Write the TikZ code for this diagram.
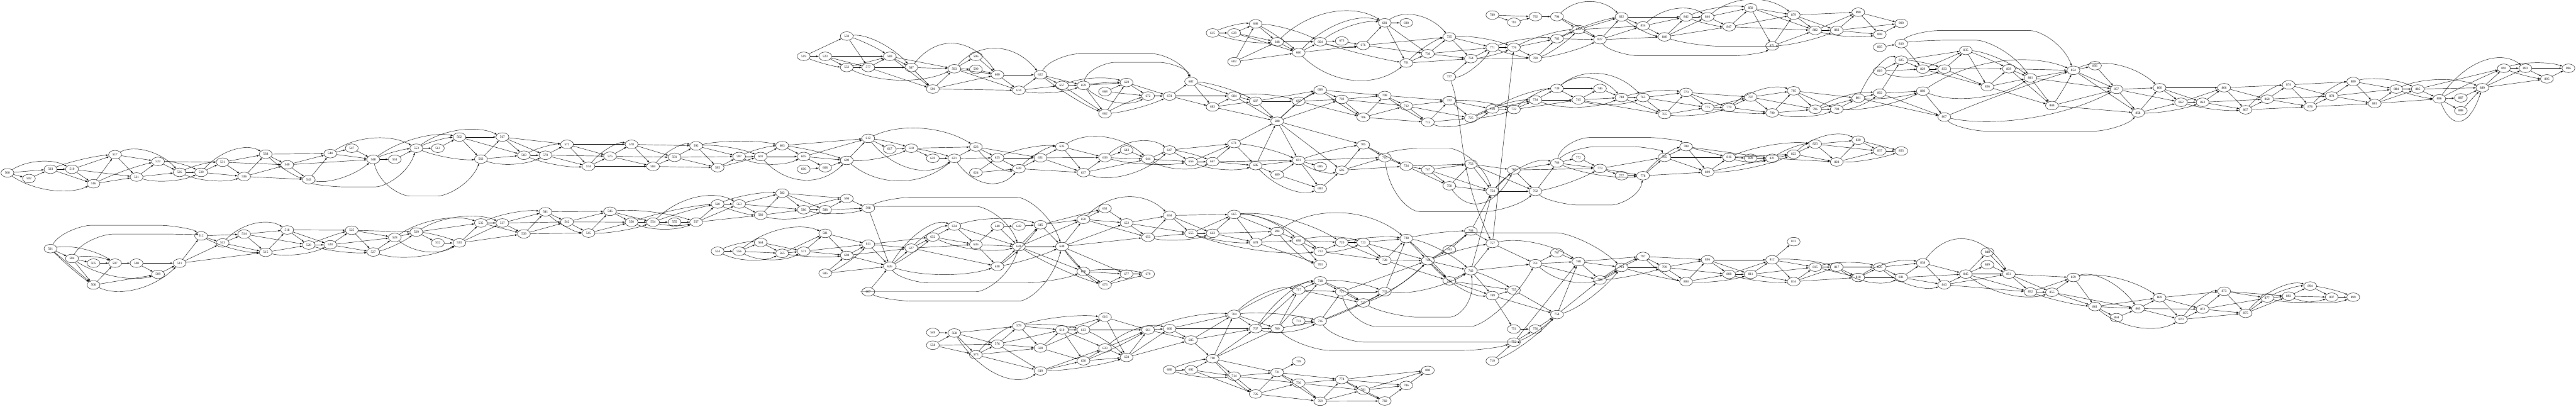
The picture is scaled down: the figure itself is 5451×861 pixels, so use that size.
\documentclass[tikz,border=0pt]{standalone}
\usepackage{fontspec}
\setmainfont{Liberation Serif}
\usetikzlibrary{shapes.geometric,arrows.meta,calc}
\tikzset{
  nd/.style={draw=black,ellipse,line width=0.6pt,minimum width=27.3pt,minimum height=18.2pt,inner sep=0pt,font=\fontsize{7}{8}\selectfont},
  edge/.style={draw=black,line width=0.6pt,-{Latex[length=5pt,width=3.5pt]}}
}
\newcommand\curved[3]{\draw[edge] (n#1) .. controls ($(n#1)!.3!(n#2)+(0,1.82*#3)$) and ($(n#1)!.7!(n#2)+(0,1.82*#3)$) .. (n#2);}
\begin{document}
\begin{tikzpicture}[x=45.54pt,y=-0.5491pt]
\path[use as bounding box] (-15.7pt,0pt) rectangle (5435.3pt,-861pt);
\foreach \n/\c/\y in {
500/0/666,502/1/688,503/2/652,501/2/958,510/3/652,504/3/996,516/4/708,505/4/1014,506/4/1098,517/5/596,507/5/1014,521/6/682,508/6/1014,522/7/622,509/7/1057,526/8/664,511/8/1014,530/9/664,512/9/909,531/10/625,513/10/936,536/11/680,514/11/902,538/12/594,515/12/972,540/13/635,518/13/886,543/14/692,520/14/944,544/15/592,524/15/943,547/16/571,525/16/887,548/17/614,527/17/971,551/18/614,528/18/915,553/19/571,529/19/894,561/20/571,532/20/936,562/21/528,533/21/936,566/22/613,535/22/859,567/23/528,537/23/859,569/24/598,539/24/901,570/25/598,541/25/816,572/26/556,542/26/855,574/27/641,545/27/898,575/28/602,546/28/814,578/29/556,550/29/856,584/30/641,554/30/856,591/31/606,555/31/856,592/32/562,557/32/856,595/33/646,560/33/786,534/33/968,597/34/603,563/34/786,556/34/968,601/35/603,580/35/829,564/35/934,603/36/561,582/36/744,565/36/976,
519/37/217,605/37/603,606/37/652,586/37/808,571/37/968,523/38/217,608/38/646,588/38/808,581/38/899,585/38/1053,559/39/139,552/39/260,609/39/618,594/39/765,604/39/984,577/40/260,612/40/533,598/40/802,611/40/941,607/40/1124,583/41/217,617/41/575,626/41/1026,587/42/260,618/42/571,627/42/956,590/43/343,620/43/610,632/43/913,549/43/1281,558/43/1330,593/44/265,621/44/610,634/44/871,568/44/1283,
596/45/217,599/45/267,623/45/566,624/45/665,636/45/942,573/45/1367,600/46/288,625/46/608,640/46/871,638/46/1026,576/46/1326,614/47/348,628/47/650,642/47/871,641/47/950,579/47/1256,622/48/288,631/48/608,645/48/866,589/48/1341,619/48/1429,657/49/329,635/49/565,649/49/950,610/49/1271,659/50/329,637/50/665,650/50/845,670/50/1046,613/50/1271,630/50/1390,668/51/353,662/51/438,639/51/607,651/51/803,673/51/1098,616/51/1222,633/51/1341,669/52/318,643/52/578,652/52/859,677/52/1056,658/52/1377,672/53/370,644/53/613,653/53/914,679/53/1056,661/53/1271,674/54/370,647/54/578,654/54/830,666/54/1266,680/54/1425,682/55/314,656/55/623,655/55/899,685/55/1310,692/55/1425,615/56/127,683/56/412,667/56/623,663/56/899,700/56/1382,629/57/127,602/57/238,684/57/370,671/57/553,665/57/826,704/57/1211,714/57/1449,646/58/92,687/58/390,686/58/638,678/58/934,707/58/1266,726/58/1518,648/59/161,688/59/467,689/59/673,694/59/892,709/59/1266,731/59/1435,
660/60/203,697/60/390,691/60/618,698/60/927,717/60/1117,711/60/1237,759/60/1392,736/60/1476,664/61/161,699/61/347,695/61/642,693/61/727,713/61/969,703/61/1019,718/61/1082,716/61/1237,769/61/1546,675/62/158,702/62/383,696/62/656,720/62/934,721/62/1124,774/62/1462,676/63/175,706/63/452,705/63/558,723/63/934,727/63/1167,781/63/1503,681/64/88,708/64/368,710/64/607,728/64/1003,733/64/1124,782/64/1545,690/65/88,701/65/243,712/65/408,724/65/640,738/65/919,786/65/1485,730/66/207,715/66/471,747/66/654,740/66/1004,800/66/1427,735/67/142,737/67/296,722/67/388,750/67/716,743/67/962,741/67/1082,764/68/226,725/68/455,753/68/632,744/68/890,742/68/1043,789/69/58,771/69/183,729/69/420,754/69/737,757/69/938,749/69/1139,719/69/1391,791/70/86,776/70/183,732/70/422,760/70/655,755/70/1118,751/70/1268,752/70/1318,792/71/64,780/71/224,734/71/385,762/71/737,761/71/1016,756/71/1268,794/72/64,783/72/149,739/72/341,766/72/628,767/72/974,758/72/1212,824/73/114,745/73/385,772/73/607,768/73/1008,827/74/153,746/74/341,773/74/649,784/74/1079,
832/75/65,748/75/376,777/75/677,793/75/1030,834/76/100,763/76/376,778/76/677,797/76/988,840/77/142,765/77/441,785/77/606,799/77/1030,842/78/65,770/78/356,788/78/565,804/78/1085,846/79/65,775/79/414,809/79/663,806/79/1001,847/80/103,779/80/414,816/80/606,808/80/1057,850/81/30,787/81/374,820/81/610,811/81/1057,871/82/177,790/82/435,821/82/610,812/82/1001,879/83/58,795/83/350,822/83/594,813/83/931,814/83/1085,882/84/117,796/84/421,823/84/555,815/84/1029,883/85/117,798/85/421,828/85/624,817/85/1029,890/86/47,801/86/378,830/86/540,818/86/1069,898/87/133,805/87/182,819/87/274,802/87/359,837/87/582,826/87/1029,900/88/90,810/88/168,825/88/232,853/88/582,831/88/1069,829/89/266,803/89/351,838/89/1013,
833/90/266,807/90/451,843/90/1097,835/91/194,845/91/1056,836/92/334,848/92/971,849/92/1020,839/93/265,851/93/1056,841/94/300,852/94/1125,844/95/407,855/95/1126,854/96/271,859/96/1069,856/97/253,861/97/1181,857/98/344,864/98/1224,858/99/435,865/99/1189,860/100/338,869/100/1147,862/101/394,870/101/1231,863/102/394,872/102/1191,866/103/338,873/103/1122,867/104/423,875/104/1207,868/105/382,877/105/1148,874/106/327,892/106/1141,876/107/411,894/107/1102,878/108/370,897/108/1145,880/109/314,899/109/1145,881/110/399,884/111/343,885/112/343,886/113/381,887/114/377,888/114/427,889/115/338,891/116/263,893/117/263,895/118/304,896/119/263}
{\node[nd] (n\n) at (\c,\y) {\n};}
% straight connectors
\foreach \a/\b in {
500/503,500/502,502/503,503/510,503/516,510/517,510/521,510/516,516/517,516/521,517/522,517/521,522/531,522/526,521/522,521/526,526/530,530/531,530/536,531/538,531/540,531/536,536/538,536/540,536/543,538/544,538/540,540/544,540/543,540/548,543/544,544/547,544/548,547/548,548/551,551/553,553/561,561/562,562/567,562/566,562/569,566/567,566/569,567/572,567/569,567/570,569/570,570/572,570/575,570/574,572/578,572/575,572/574,574/575,574/584,575/578,575/584,575/591,578/584,578/591,578/592,584/591,584/595,591/592,591/597,591/595,592/597,592/595,595/597,595/601,597/601,601/603,601/605,603/605,603/612,605/608,605/609,605/612,606/608,608/609,609/612,612/617,617/618,618/620,618/623,620/621,621/623,621/625,623/625,623/631,624/625,624/628,625/631,625/628,628/631,628/637,631/635,631/639,631/637,635/637,635/639,637/639,637/644,639/643,639/644,643/644,644/647,644/656,647/656,647/671,656/667,656/671,667/671,667/686,667/691,671/688,671/686,686/688,686/689,686/691,689/693,689/691,
600/622,600/614,614/622,614/657,622/657,622/659,657/659,657/662,659/669,659/662,668/669,668/672,662/669,669/672,669/674,672/674,674/682,674/684,674/683,682/684,682/683,683/684,683/687,683/688,684/687,684/688,687/697,687/688,687/699,688/697,688/702,688/691,688/705,688/696,
615/629,629/646,629/648,629/660,602/646,602/648,602/660,646/648,648/660,648/664,660/664,660/676,664/675,675/676,676/681,676/735,676/730,681/690,681/701,681/730,701/730,701/764,730/735,730/764,730/771,735/764,735/771,737/764,764/771,764/780,771/776,776/780,776/783,780/783,783/824,783/827,789/792,789/791,791/792,792/794,794/824,824/832,824/827,824/834,827/832,827/834,827/840,832/834,832/842,834/842,834/840,840/842,840/846,840/847,842/846,846/847,846/850,847/850,847/879,847/882,850/879,850/882,850/871,871/879,871/882,879/890,879/882,879/883,882/883,882/890,883/890,883/900,883/898,890/900,890/898,898/900,
805/810,810/829,819/825,819/829,825/829,825/835,829/833,829/835,829/836,798/801,796/798,796/801,801/802,802/803,802/825,802/807,803/807,801/807,833/835,833/839,833/836,835/836,836/839,836/841,836/844,839/841,839/854,839/844,841/854,841/857,841/844,844/857,844/858,854/856,854/857,854/858,856/857,857/860,857/862,857/858,858/860,858/862,860/866,860/862,860/863,862/863,862/866,863/866,863/867,863/868,866/867,866/868,866/874,867/868,867/876,868/874,868/878,868/876,874/876,874/878,874/880,876/878,876/881,878/880,878/884,878/881,880/881,880/884,881/884,881/885,881/886,884/885,885/886,885/889,885/891,886/887,886/888,887/889,888/889,889/891,889/893,889/895,891/893,893/896,893/895,895/896,
501/504,501/506,504/505,504/506,505/507,506/507,506/509,507/508,508/511,508/509,509/511,511/512,511/513,511/515,512/514,512/513,513/514,513/515,514/518,514/520,514/515,515/518,515/520,518/520,518/524,518/525,520/524,524/525,524/528,524/527,525/528,525/527,525/529,527/528,528/529,529/532,529/535,532/533,533/535,533/537,533/539,535/537,535/539,537/539,537/541,537/542,539/541,539/542,539/545,541/542,541/546,542/545,542/546,542/550,545/546,545/550,546/550,546/554,550/554,554/555,555/557,557/560,557/563,557/580,560/563,563/580,563/582,563/586,580/582,580/586,582/586,582/588,582/594,586/588,588/594,588/598,594/598,598/626,
534/556,556/564,556/565,564/565,564/571,565/571,565/581,571/581,571/611,571/604,581/611,581/604,585/604,585/626,604/611,604/626,604/627,611/626,611/627,611/632,607/626,626/627,627/632,627/636,627/638,632/634,632/636,634/636,634/641,636/640,636/641,636/638,638/641,640/641,640/642,642/645,641/645,641/649,641/650,641/670,645/649,645/650,645/651,649/650,649/652,649/653,649/670,649/677,650/651,650/652,650/653,651/652,652/654,652/655,652/653,653/654,653/655,654/655,654/663,654/665,655/663,655/665,663/665,663/678,663/694,665/678,665/694,678/694,678/698,678/703,694/698,698/713,698/703,698/720,713/720,713/728,720/723,720/728,723/738,723/728,723/740,728/738,728/740,728/741,733/738,738/740,740/741,740/742,740/743,741/742,741/749,741/755,742/757,742/754,742/749,742/761,743/744,744/754,744/757,749/755,749/758,749/751,751/756,756/758,752/756,752/768,719/752,755/758,757/761,757/776,761/767,761/768,761/784,767/768,768/784,768/793,768/797,784/793,758/768,758/784,793/797,793/799,797/799,797/806,799/804,799/806,799/808,804/806,804/808,806/812,806/808,806/811,808/811,808/812,811/812,811/815,811/814,812/813,812/815,812/814,814/815,814/817,814/818,815/817,815/818,817/818,817/826,818/826,818/831,826/831,826/838,831/838,831/843,831/845,838/843,838/845,843/845,843/851,843/852,845/848,845/849,845/851,845/852,848/851,849/851,851/859,851/852,851/855,852/855,852/859,855/859,855/861,855/865,859/861,861/864,861/865,861/869,864/865,865/869,865/872,865/870,869/870,869/872,869/873,870/872,870/875,872/873,872/875,872/877,873/875,873/892,873/877,875/877,875/892,877/892,892/894,892/897,894/897,897/899,
519/523,519/559,523/583,523/552,523/577,552/577,552/583,559/577,577/583,577/587,577/590,583/587,583/593,583/590,587/593,587/590,590/593,590/600,590/614,593/596,593/599,593/600,593/614,596/600,599/600,
549/568,558/568,558/573,558/576,568/573,568/576,568/579,573/576,573/589,573/619,576/579,576/610,576/589,576/619,579/589,579/610,589/610,589/613,589/630,610/613,610/616,610/630,610/633,613/616,613/661,616/661,616/658,619/630,619/633,630/633,630/658,633/658,633/661,658/661,658/666,658/685,661/666,661/685,666/685,666/704,666/707,685/700,685/704,685/707,680/692,692/700,692/714,692/726,700/704,700/707,700/709,700/714,700/731,704/707,704/709,707/717,707/709,709/717,709/718,709/716,711/716,717/718,717/721,717/727,718/721,716/721,716/727,721/727,721/733,721/740,727/733,
691/695,691/693,691/710,693/696,696/705,696/710,696/724,697/699,697/702,697/706,699/702,699/708,702/706,702/708,702/712,706/708,706/712,706/715,708/712,708/722,712/722,712/715,712/725,715/722,715/725,722/725,722/729,725/729,729/732,729/734,732/734,732/745,734/739,734/745,739/745,739/746,745/746,745/748,745/765,746/748,748/763,748/765,763/770,763/765,763/775,765/770,765/775,770/775,770/779,770/787,775/779,775/787,779/787,779/790,787/790,787/795,787/796,790/795,790/796,795/796,795/798,795/801,
705/710,705/724,710/724,724/747,724/750,724/753,747/750,747/753,747/754,750/753,750/754,753/760,753/754,753/762,754/760,754/762,760/762,760/766,760/773,762/766,766/772,766/773,772/773,773/777,773/785,773/778,777/778,778/785,778/809,785/788,785/816,785/809,788/809,788/816,788/821,809/816,809/821,816/820,816/822,820/821,821/822,821/828,822/823,822/828,823/830,823/837,823/828,828/830,828/837,830/837,830/853,837/853,
670/677,670/673,673/677,673/679,677/679,
714/731,714/726,714/736,726/731,726/736,726/769,731/759,731/736,731/769,731/774,736/774,736/781,736/769,769/774,769/781,769/782,774/781,774/786,774/800,781/782,781/786,781/800,782/786,786/800}
{\draw[edge] (n\a) -- (n\b);}
% curved connectors: a/b/vertical offset of the control points
\foreach \a/\b/\h in {
500/510/-25,500/516/31,503/517/-7,516/522/-6,517/526/-33,522/530/-8,521/530/16,526/531/-7,526/536/16,530/538/-35,538/543/10,543/548/22,544/553/-34,548/553/-5,548/562/-26,553/562/-6,553/567/-33,553/566/10,566/570/18,569/572/-8,569/574/10,574/578/-20,584/592/-20,592/601/-10,592/603/-12,597/603/-6,597/605/20,601/609/58,603/609/-5,609/618/10,609/621/58,612/618/-3,612/621/54,612/623/-38,618/621/-3,621/628/52,623/628/22,625/635/-12,628/635/-15,635/644/-42,637/647/36,639/647/-33,639/656/12,644/667/22,647/667/-5,656/686/15,671/691/-8,686/693/30,
622/662/8,614/659/12,657/669/-15,659/669/-3,659/672/30,662/672/-5,662/674/8,682/687/-10,684/697/-10,688/699/-8,615/646/-8,615/648/10,646/660/-5,646/664/-10,648/681/-54,660/681/-40,660/701/60,664/676/8,664/681/-18,664/701/5,681/735/-38,701/735/-12,735/776/-10,737/771/20,764/776/5,771/780/5,771/783/-10,776/824/-10,780/824/10,780/827/8,783/832/-8,794/827/-3,794/832/-40,832/840/10,834/846/-33,842/847/5,842/850/-12,846/879/-44,871/883/8,882/898/10,
819/833/18,825/833/-5,798/802/12,798/803/15,796/802/-15,801/803/8,801/825/-38,803/854/-52,803/841/35,807/857/40,807/854/-5,835/839/-2,835/841/-15,844/854/5,854/860/-38,858/863/8,862/867/8,867/874/-15,876/880/-15,880/885/-15,884/886/5,884/889/-23,886/889/75,886/891/-3,886/893/-60,891/895/5,891/896/-14,
501/507/-18,501/506/5,504/507/-10,504/509/26,506/511/40,512/515/12,513/518/-34,515/524/15,520/525/-3,520/527/8,527/529/8,527/533/24,528/533/30,528/535/-28,529/533/-5,529/537/-28,535/541/-12,541/545/12,545/554/8,546/557/-12,550/560/-8,550/557/18,554/557/8,554/560/-4,554/563/-42,560/580/6,560/582/-10,580/588/16,586/594/-5,586/598/12,
534/564/-8,534/565/20,556/571/22,556/581/-35,565/604/6,585/611/10,626/632/5,626/634/-42,626/638/22,627/634/-15,632/641/20,634/645/-18,638/645/10,638/649/6,641/673/10,649/673/15,650/654/-55,653/663/12,655/678/8,655/713/20,665/698/-20,665/713/-25,665/720/-25,694/703/15,694/738/-60,698/723/-12,713/723/8,720/738/-8,733/740/10,733/742/20,738/741/-5,738/742/-15,738/744/-5,740/744/3,740/757/-5,740/749/25,742/755/-5,752/758/10,719/758/15,757/768/-25,761/793/45,784/797/-6,784/799/5,758/793/20,793/804/3,797/804/12,804/811/8,808/814/8,812/817/-8,815/826/-12,817/831/25,818/838/-20,826/843/25,838/851/-80,845/855/30,852/861/6,859/865/-35,859/869/-25,861/870/38,870/873/-20,875/894/-30,877/894/-8,877/897/12,892/899/16,894/899/-5,
519/552/5,552/593/32,559/583/-5,559/587/-25,587/600/-75,593/622/-63,568/619/60,573/579/-15,579/613/-8,579/616/-12,613/658/-8,619/658/8,630/661/5,633/666/-25,661/704/-15,680/700/-5,680/714/10,700/726/10,704/717/-25,704/716/-10,704/718/-15,707/718/-30,707/716/18,716/733/5,718/727/-5,718/733/-10,727/740/15,
691/705/-5,691/696/15,699/706/3,708/715/3,715/729/25,722/732/-8,725/732/5,725/734/-12,729/739/-12,732/739/-12,734/748/22,739/748/-40,739/763/-52,745/763/15,748/770/-10,765/779/10,775/790/6,779/795/-25,790/798/14,
750/760/68,754/766/-30,762/773/8,766/778/15,778/788/-15,809/822/12,816/821/10,816/823/-15,821/823/-10,822/830/-30,828/853/8,670/679/-8,774/782/3}
{\curved{\a}{\b}{\h}}
% long connectors with a flat stretch: a/b/start column/end column/level
\foreach \a/\b/\p/\q/\l in {
501/512/3.9/7.1/868,504/512/4.9/7.5/902,598/649/42/46.9/760,598/641/41.5/45/795,607/641/40.5/45/1124,607/649/42/47/1160,626/670/42.8/47.4/1090,622/682/49.8/53.2/207,659/682/51.5/53.5/240,548/566/18.7/20/755,543/553/15.6/17.1/720,721/761/63.6/68/1258,709/752/61.4/67.7/1350,716/752/63/69/1318,710/762/65.6/68.7/815,710/754/65.5/67/572,727/742/65.5/67/1222,744/793/69/72/897,766/788/73.5/76.3/530,766/785/73.8/75.5/565,810/854/89.7/94/118,810/841/90/91.5/155,807/858/91.9/97/505,827/871/75.8/80.2/215,840/871/79.5/81/178,762/778/73/74.5/790}
{\draw[edge] (n\a) .. controls ($(n\a)!.67!({\p-1.3},\l)$) and ({\p-.45},\l) .. (\p,\l) -- (\q,\l) .. controls ({\q+.45},\l) and ($(n\b)!.67!({\q+1.3},\l)$) .. (n\b);}
\draw[edge] (n737) .. controls (67.7,450) and (67.3,650) .. (n757);
\end{tikzpicture}
\end{document}
